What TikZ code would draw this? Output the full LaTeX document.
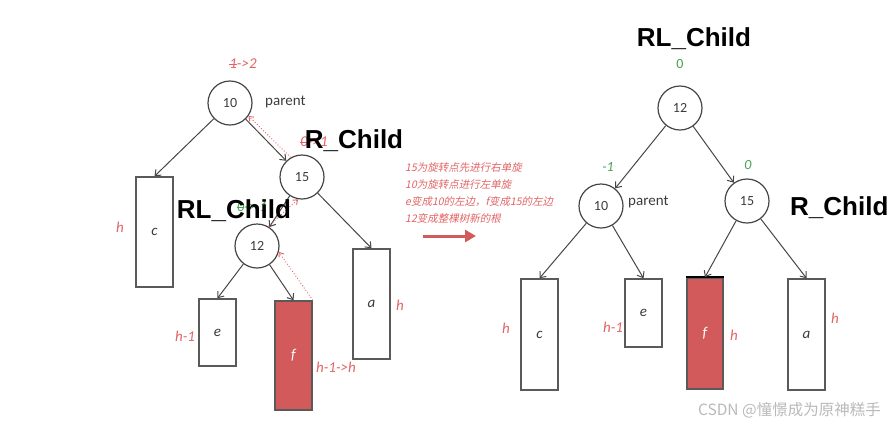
\documentclass[tikz,border=0pt]{standalone}
\usepackage{fontspec}
\setmainfont{Carlito}
\newfontfamily\titlefont{Liberation Sans}
\newfontfamily\cjkslant[FakeSlant=0.2]{Noto Sans CJK SC}
\newfontfamily\cjkup{Noto Sans CJK SC}
\newcommand\strikeme[1]{\leavevmode\setbox0\hbox{#1}\rlap{\raisebox{0.3em}{\rule{\wd0}{0.6pt}}}\box0}
\usetikzlibrary{arrows.meta}
\definecolor{strokegray}{RGB}{70,70,70}
\definecolor{boxgray}{RGB}{90,90,90}
\definecolor{textgray}{RGB}{60,60,60}
\definecolor{redtext}{RGB}{226,100,100}
\definecolor{redfill}{RGB}{210,90,90}
\definecolor{grn}{RGB}{70,160,80}
\definecolor{wmgray}{RGB}{185,185,185}
\begin{document}
\begin{tikzpicture}[x=1pt,y=-1pt,
  circ/.style={circle, draw=strokegray, line width=1.2pt, fill=white, minimum size=44pt, inner sep=0pt, text=textgray, font=\fontsize{14}{14}\selectfont},
  blk/.style={rectangle, draw=boxgray, line width=1.5pt, fill=white, minimum width=37pt, inner sep=0pt, text=textgray, font=\itshape\fontsize{15}{15}\selectfont},
  redblk/.style={blk, fill=redfill, text=white},
  edge/.style={draw=strokegray, line width=1pt, -{Straight Barb[length=5pt,width=8pt]}},
  redtip/.style={draw=redtext, dotted, line width=0.9pt, -{Straight Barb[length=4pt,width=6pt]}},
  lbl/.style={text=redtext, font=\itshape\fontsize{15}{15}\selectfont, inner sep=0pt},
  grnlbl/.style={text=grn, font=\itshape\fontsize{14}{14}\selectfont, inner sep=0pt},
  par/.style={text=textgray, font=\fontsize{15}{15}\selectfont, inner sep=0pt},
  title/.style={font=\titlefont\bfseries\fontsize{26}{26}\selectfont, inner sep=0pt, anchor=base},
  note/.style={text=redtext, font=\cjkslant\fontsize{10.5}{10.5}\selectfont, inner sep=0pt, anchor=west}
]
\useasboundingbox (0,0) rectangle (887,424);

% ---------- left tree ----------
\node[circ] (L10) at (230,103) {10};
\node[circ] (L15) at (302,177) {15};
\node[circ] (L12) at (257,246) {12};
\node[blk, minimum height=110pt] (Lc) at (154.5,232) {c};
\node[blk, minimum height=67pt] (Le) at (217.5,332.5) {e};
\node[redblk, minimum height=109pt] (Lf) at (293.5,355.5) {f};
\node[blk, minimum height=110pt] (La) at (371.5,304) {a};

\draw[edge] (L10) -- (Lc.north);
\draw[edge] (L10) -- (L15);
\draw[edge] (L15) -- (La.north);
\draw[edge] (L15) -- (L12);
\draw[edge] (L12) -- (Le.north);
\draw[edge] (L12) -- (Lf.north);

\draw[redtip] (L15.120) -- (L10.-35);
\draw[redtip] (L12.60) -- (L15.-100);
\draw[redtip] (Lf.north east) -- (L12.-15);

\node[par, anchor=west] (Lpar) at (265,102) {parent};
\node[lbl] (Lbf10) at (243,64) {\strikeme{1}->2};
\node[lbl] (Lbf15) at (314,142) {\strikeme{0}->1};
\node[grnlbl] (Lbf12) at (252,207) {\strikeme{0}->-1};
\node[lbl] (Lhc) at (120,227) {h};
\node[lbl] (Lhe) at (185,336) {h-1};
\node[lbl] (Lhf) at (336,367) {h-1->h};
\node[lbl] (Lha) at (400,305) {h};

\node[title] (LRC) at (354,148) {R\_Child};
\node[title] (LRLC) at (234,218) {RL\_Child};

% ---------- middle notes ----------
\node[note] (n1) at (405,168) {15为旋转点先进行右单旋};
\node[note] (n2) at (405,185) {10为旋转点进行左单旋};
\node[note] (n3) at (405,202) {e变成10的左边，f变成15的左边};
\node[note] (n4) at (405,218) {12变成整棵树新的根};
\coordinate (ma) at (423,236);
\coordinate (mb) at (476,236);
\draw[redfill, line width=3pt, -{Triangle[length=11pt,width=12pt]}] (ma) -- (mb);

% ---------- right tree ----------
\node[circ] (R12) at (680,108) {12};
\node[circ] (R10) at (601,206) {10};
\node[circ] (R15) at (747,201) {15};
\node[blk, minimum height=111pt] (Rc) at (539.5,334.5) {c};
\node[blk, minimum height=68pt] (Re) at (643.5,313) {e};
\node[redblk, minimum width=36pt, minimum height=111pt] (Rf) at (705,333.5) {f};
\node[blk, minimum height=111pt] (Ra) at (806.5,334.5) {a};
\draw[black, line width=2.2pt] (Rf.north west) -- (Rf.north east);

\draw[edge] (R12) -- (R10);
\draw[edge] (R12) -- (R15);
\draw[edge] (R10) -- (Rc.north);
\draw[edge] (R10) -- (Re.north);
\draw[edge] (R15) -- (Rf.north);
\draw[edge] (R15) -- (Ra.north);

\node[par, anchor=west] (Rpar) at (628,202) {parent};
\node[grnlbl, font=\fontsize{14}{14}\selectfont] (Rb12) at (680,64) {0};
\node[grnlbl] (Rb10) at (608,167) {-1};
\node[grnlbl] (Rb15) at (748,165) {0};
\node[lbl] (Rhc) at (506,328) {h};
\node[lbl] (Rhe) at (613,327) {h-1};
\node[lbl] (Rhf) at (734,335) {h};
\node[lbl] (Rha) at (835,318) {h};

\node[title] (RRLC) at (694,46) {RL\_Child};
\node[title, anchor=base west] (RRC) at (790,215) {R\_Child};

\node[text=wmgray, font=\cjkup\fontsize{15.5}{15.5}\selectfont, inner sep=0pt, anchor=east] (wm) at (881,410) {CSDN @憧憬成为原神糕手};
\end{tikzpicture}
\end{document}
